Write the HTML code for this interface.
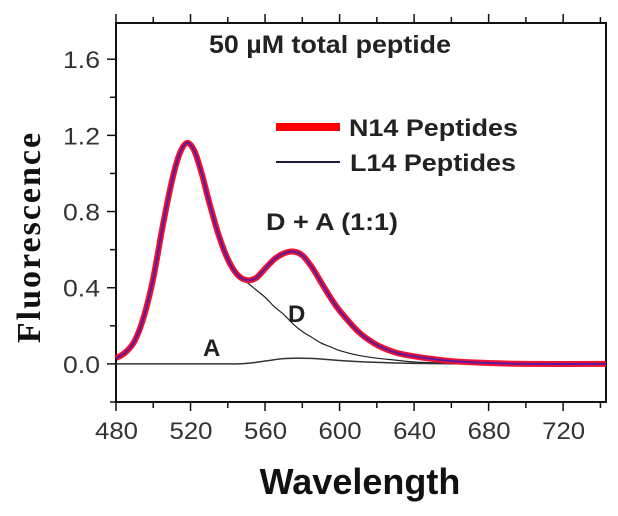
<!DOCTYPE html>
<html><head><meta charset="utf-8"><style>
body{margin:0;background:#fff}
svg text{font-family:"Liberation Sans",sans-serif}
</style></head><body>
<svg id="chart" width="618" height="511" xmlns="http://www.w3.org/2000/svg">
<g id="axes"></g><g id="series"></g>
<text x="209" y="53" textLength="242" lengthAdjust="spacingAndGlyphs" font-size="25" font-weight="bold" fill="#222">50 µM total peptide</text>
<line x1="276" y1="127" x2="340" y2="127" stroke="#f00" stroke-width="8"/>
<text x="349" y="136" textLength="169" lengthAdjust="spacingAndGlyphs" font-size="24" font-weight="bold" fill="#222">N14 Peptides</text>
<line x1="276" y1="162" x2="340" y2="162" stroke="#1a1a3a" stroke-width="2"/>
<text x="350" y="171" textLength="166" lengthAdjust="spacingAndGlyphs" font-size="24" font-weight="bold" fill="#222">L14 Peptides</text>
<text x="266" y="230" textLength="132" lengthAdjust="spacingAndGlyphs" font-size="24" font-weight="bold" fill="#222">D + A (1:1)</text>
<text x="288" y="322" font-size="24" font-weight="bold" fill="#222">D</text>
<text x="203" y="356" font-size="24" font-weight="bold" fill="#222">A</text>
<text x="360" y="494" text-anchor="middle" font-size="36" font-weight="bold" fill="#111">Wavelength</text>
<text transform="translate(40,237) rotate(-90)" text-anchor="middle" font-size="34" font-weight="bold" fill="#111" style="font-family:'Liberation Serif',serif" letter-spacing="2">Fluorescence</text>
</svg>
<script>
const xTicks=[480,520,560,600,640,680,720];
const yTicks=[0.0,0.4,0.8,1.2,1.6];
const wl=[480,485,490,495,500,505,510,514,518,522,526,530,535,540,545,550,555,560,565,570,575,580,585,590,595,600,610,620,630,640,660,680,700,743];
const n14=[0.03,0.06,0.12,0.25,0.45,0.72,0.96,1.1,1.16,1.12,1.0,0.85,0.68,0.55,0.47,0.44,0.45,0.5,0.55,0.58,0.59,0.57,0.51,0.43,0.35,0.28,0.17,0.1,0.06,0.04,0.015,0.005,0.0,0.0];
const dOnly=[0.03,0.06,0.12,0.25,0.45,0.72,0.96,1.1,1.16,1.12,1.0,0.85,0.68,0.55,0.47,0.43,0.39,0.35,0.3,0.26,0.21,0.17,0.14,0.11,0.09,0.07,0.045,0.03,0.02,0.01,0.004,0.0,0.0,0.0];
const aOnly=[0,0,0,0,0,0,0,0,0,0,0,0,0,0,0,0.003,0.008,0.015,0.022,0.028,0.03,0.03,0.029,0.026,0.022,0.018,0.012,0.008,0.005,0.003,0.001,0,0,0];
const L=116,R=606,T=23,B=402,xmin=480,xmax=743,ymin=-0.2,ymax=1.79;
const X=v=>L+(v-xmin)/(xmax-xmin)*(R-L);
const Y=v=>B-(v-ymin)/(ymax-ymin)*(B-T);
const NS='http://www.w3.org/2000/svg';
function mk(tag,at,parent){const e=document.createElementNS(NS,tag);for(const k in at)e.setAttribute(k,at[k]);parent.appendChild(e);return e;}
const ax=document.getElementById('axes');
const frame=mk('rect',{x:L,y:T,width:R-L,height:B-T,fill:'none',stroke:'#111','stroke-width':2},ax);


for(let v=480;v<=740;v+=20){const major=xTicks.includes(v);const len=major?9:6;
 const t1=mk('line',{x1:X(v),x2:X(v),y1:B,y2:B+len,stroke:'#111','stroke-width':1.5},ax);
 
 
 const t2=mk('line',{x1:X(v),x2:X(v),y1:T,y2:T-len,stroke:'#111','stroke-width':1.5},ax);
 
 }
xTicks.forEach(v=>{const t=mk('text',{x:X(v)-21,y:439,textLength:43,lengthAdjust:'spacingAndGlyphs','font-size':24,fill:'#333'},ax);t.textContent=v;
 
 });
for(let i=-1;i<=8;i++){const v=i*0.2;const major=i>=0&&i%2==0;
 const t=mk('line',{x1:L,x2:L-(major?9:6),y1:Y(v),y2:Y(v),stroke:'#111','stroke-width':1.5},ax);
 
 }
yTicks.forEach(v=>{const t=mk('text',{x:63,y:Y(v)+9,textLength:37,lengthAdjust:'spacingAndGlyphs','font-size':24,fill:'#333'},ax);t.textContent=v.toFixed(1);
 
 });
function path(xs,ys){const p=xs.map((x,i)=>[X(x),Y(ys[i])]);let d='M'+p[0][0]+','+p[0][1];
 for(let i=0;i<p.length-1;i++){const p0=p[Math.max(0,i-1)],p1=p[i],p2=p[i+1],p3=p[Math.min(p.length-1,i+2)];
 d+=' C'+(p1[0]+(p2[0]-p0[0])/6)+','+(p1[1]+(p2[1]-p0[1])/6)+' '+(p2[0]-(p3[0]-p1[0])/6)+','+(p2[1]-(p3[1]-p1[1])/6)+' '+p2[0]+','+p2[1];}
 return d;}
const s=document.getElementById('series');
const pd=mk('path',{d:path(wl,dOnly),fill:'none',stroke:'#222','stroke-width':1.2},s);


const pa=mk('path',{d:path(wl,aOnly),fill:'none',stroke:'#333','stroke-width':1.5},s);


const pn=mk('path',{d:path(wl,n14),fill:'none',stroke:'#f01030','stroke-width':6},s);


const pl=mk('path',{d:path(wl,n14),fill:'none',stroke:'#5a1aa0','stroke-width':2},s);


</script>
</body></html>
